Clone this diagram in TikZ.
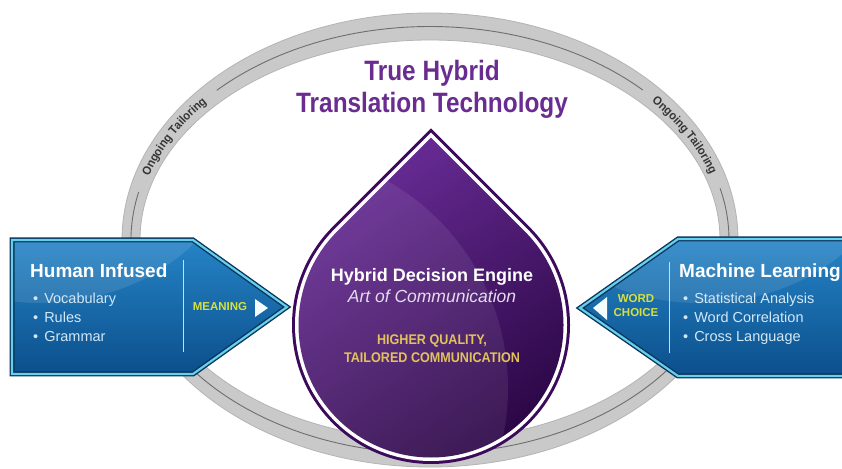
\documentclass[tikz,border=0pt]{standalone}
\usepackage{fontspec}
\setmainfont{Liberation Sans}
\newfontfamily\titlefont{Liberation Sans}[FakeStretch=0.87]
\newfontfamily\goldfont{Liberation Sans}[FakeStretch=0.9]
\newfontfamily\ringfont{Liberation Sans}[FakeStretch=0.93]
\usetikzlibrary{decorations.text}
\definecolor{ringgrey}{HTML}{C9C9C9}
\definecolor{ringedge}{HTML}{B4B4B4}
\definecolor{ringline}{HTML}{6E6E6E}
\definecolor{ringtext}{HTML}{363636}
\definecolor{titlepurple}{HTML}{6A2C91}
\definecolor{dropedge}{HTML}{3B0A5C}
\definecolor{dropA}{HTML}{6A2D98}
\definecolor{dropB}{HTML}{2A0644}
\definecolor{artgrey}{HTML}{E4DCEC}
\definecolor{gold}{HTML}{E2C25C}
\definecolor{blueA}{HTML}{2584C6}
\definecolor{blueB}{HTML}{0C4F8C}
\definecolor{navyedge}{HTML}{0A355C}
\definecolor{cyanline}{HTML}{66D0EC}
\definecolor{lightblue}{HTML}{D2E8F6}
\definecolor{keyword}{HTML}{D6E03C}
\tikzset{
  droppath/.style={insert path={(431,{143+1.41421*#1}) -- ({431-0.70711*#1},{143+0.70711*#1}) arc[start angle=135,end angle=405,radius=#1pt] -- cycle}},
  titletext/.style={anchor=base, inner sep=0pt, text=titlepurple, font=\titlefont\bfseries\fontsize{28}{30}\selectfont},
  headtext/.style={anchor=base west, inner sep=0pt, text=white, font=\bfseries\fontsize{19}{21}\selectfont},
  bullettext/.style={anchor=base west, inner sep=0pt, text=lightblue, font=\fontsize{14.5}{16}\selectfont},
  keytext/.style={anchor=base, inner sep=0pt, text=keyword, font=\bfseries\fontsize{11.5}{13}\selectfont},
  goldtext/.style={anchor=base, inner sep=0pt, text=gold, font=\goldfont\bfseries\fontsize{14}{16}\selectfont},
  ringlabel/.style={decorate, decoration={text along path, text={|\ringfont\bfseries\fontsize{12}{13}\selectfont|Ongoing Tailoring}, text align=center, text color=ringtext, raise=-4pt}},
  divider/.style={draw=lightblue!80!cyanline, line width=1pt},
  arrowedge/.style={draw=navyedge, line width=5pt, line join=miter},
  arrowline/.style={draw=cyanline, line width=2.2pt, line join=miter},
  tri/.style={fill=white!92!cyanline}
}
\begin{document}
\begin{tikzpicture}[x=1pt,y=1pt]
\useasboundingbox (0,0) rectangle (842,468);
\clip (0,0) rectangle (842,468);
\fill[white] (0,0) rectangle (842,468);

% ---- grey ring
\fill[ringgrey, even odd rule] (430,228) ellipse [x radius=308pt, y radius=227pt] (430,228) ellipse [x radius=290pt, y radius=200pt];
\draw[ringedge, line width=0.8pt] (430,228) ellipse [x radius=308pt, y radius=227pt];
\draw[ringedge, line width=0.8pt] (430,228) ellipse [x radius=290pt, y radius=200pt];
\draw[ringline, line width=0.9pt] (430,228) ++(44.6:299pt and 213.5pt) arc[start angle=44.6, end angle=135.5, x radius=299pt, y radius=213.5pt];
\draw[ringline, line width=0.9pt] (430,228) ++(167:299pt and 213.5pt) arc[start angle=167, end angle=374, x radius=299pt, y radius=213.5pt];
\path[ringlabel] (430,228) ++(168:299pt and 213.5pt) arc[start angle=168, end angle=134, x radius=299pt, y radius=213.5pt];
\path[ringlabel] (430,228) ++(46:299pt and 213.5pt) arc[start angle=46, end angle=13, x radius=299pt, y radius=213.5pt];

% ---- title
\node[titletext] (t1) at (432,387) {True Hybrid};
\node[titletext] (t2) at (432,355) {Translation Technology};

% ---- left arrow
\coordinate (la1) at (12,228);
\coordinate (la2) at (193,228);
\coordinate (la3) at (287,161);
\coordinate (la4) at (193,94);
\coordinate (la5) at (12,94);
\shade[top color=blueA, bottom color=blueB] (la1)--(la2)--(la3)--(la4)--(la5)--cycle;
\begin{scope}
  \clip (la1)--(la2)--(la3)--(la4)--(la5)--cycle;
  \fill[white, opacity=0.10] (40,330) ellipse [x radius=200pt, y radius=165pt];
\end{scope}
\path[arrowedge] (la1)--(la2)--(la3)--(la4)--(la5)--cycle;
\path[arrowline] (la1)--(la2)--(la3)--(la4)--(la5)--cycle;
\draw[divider] (183,208) -- (183,116);
\node[headtext] (hi) at (30,190) {Human Infused};
\node[bullettext] (b1) at (33,164) {•\hspace{6pt}Vocabulary};
\node[bullettext] (b2) at (33,145) {•\hspace{6pt}Rules};
\node[bullettext] (b3) at (33,126) {•\hspace{6pt}Grammar};
\node[keytext] (mean) at (220,157) {MEANING};
\fill[tri] (255,169) -- (255,151) -- (268,160) -- cycle;

% ---- right arrow
\coordinate (ra1) at (580,160);
\coordinate (ra2) at (678,229);
\coordinate (ra3) at (870,229);
\coordinate (ra4) at (870,92);
\coordinate (ra5) at (678,92);
\shade[top color=blueA, bottom color=blueB] (ra1)--(ra2)--(ra3)--(ra4)--(ra5)--cycle;
\begin{scope}
  \clip (ra1)--(ra2)--(ra3)--(ra4)--(ra5)--cycle;
  \fill[white, opacity=0.10] (700,330) ellipse [x radius=200pt, y radius=165pt];
\end{scope}
\path[arrowedge] (ra1)--(ra2)--(ra3)--(ra4)--(ra5)--cycle;
\path[arrowline] (ra1)--(ra2)--(ra3)--(ra4)--(ra5)--cycle;
\draw[divider] (669,206) -- (669,115);
\node[headtext] (ml) at (679,190) {Machine Learning};
\node[bullettext] (c1) at (683,164) {•\hspace{6pt}Statistical Analysis};
\node[bullettext] (c2) at (683,145) {•\hspace{6pt}Word Correlation};
\node[bullettext] (c3) at (683,126) {•\hspace{6pt}Cross Language};
\node[keytext] (word) at (636,165) {WORD};
\node[keytext] (choice) at (636,151) {CHOICE};
\fill[tri] (607,171) -- (607,148) -- (593,160) -- cycle;

% ---- drop
\fill[dropedge, droppath=139];
\fill[white, droppath=136];
\shade[top color=dropA, bottom color=dropB, shading angle=35, droppath=132.5];
\begin{scope}
  \clip[droppath=132.5];
  \fill[white, opacity=0.08] (270,80) circle[radius=238pt];
\end{scope}
\node[anchor=base, inner sep=0pt, text=white, font=\bfseries\fontsize{18}{20}\selectfont] (hde) at (432,186) {Hybrid Decision Engine};
\node[anchor=base, inner sep=0pt, text=artgrey, font=\itshape\fontsize{17.5}{20}\selectfont] (aoc) at (432,165) {Art of Communication};
\node[goldtext] (hq) at (432,123) {HIGHER QUALITY,};
\node[goldtext] (tc) at (432,105) {TAILORED COMMUNICATION};
\end{tikzpicture}
\end{document}
